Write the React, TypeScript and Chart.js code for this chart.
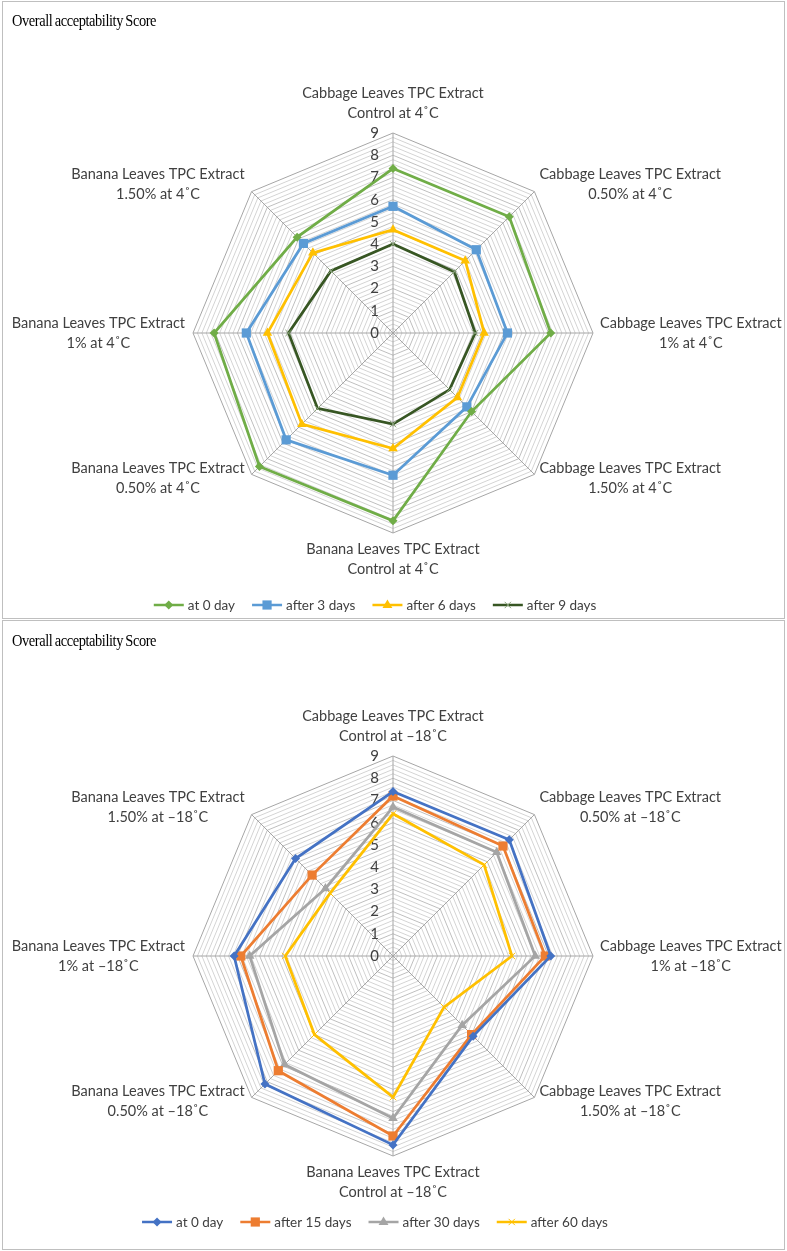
import React, { useEffect, useRef } from 'react';
import { Chart, registerables } from 'chart.js';

Chart.register(...registerables);

const FONT = 'Lato, "Liberation Sans", sans-serif';
const TITLE_TEXT = 'Overall acceptability Score';

const topCategories: string[][] = [
  ['Cabbage Leaves TPC Extract', 'Control at 4˚C'],
  ['Cabbage Leaves TPC Extract', '0.50% at 4˚C'],
  ['Cabbage Leaves TPC Extract', '1% at 4˚C'],
  ['Cabbage Leaves TPC Extract', '1.50% at 4˚C'],
  ['Banana Leaves TPC Extract', 'Control at 4˚C'],
  ['Banana Leaves TPC Extract', '0.50% at 4˚C'],
  ['Banana Leaves TPC Extract', '1% at 4˚C'],
  ['Banana Leaves TPC Extract', '1.50% at 4˚C'],
];
const bottomCategories: string[][] = [
  ['Cabbage Leaves TPC Extract', 'Control at –18˚C'],
  ['Cabbage Leaves TPC Extract', '0.50% at –18˚C'],
  ['Cabbage Leaves TPC Extract', '1% at –18˚C'],
  ['Cabbage Leaves TPC Extract', '1.50% at –18˚C'],
  ['Banana Leaves TPC Extract', 'Control at –18˚C'],
  ['Banana Leaves TPC Extract', '0.50% at –18˚C'],
  ['Banana Leaves TPC Extract', '1% at –18˚C'],
  ['Banana Leaves TPC Extract', '1.50% at –18˚C'],
];

const tickValues = [0, 1, 2, 3, 4, 5, 6, 7, 8, 9];

const topNames = ['at 0 day', 'after 3 days', 'after 6 days', 'after 9 days'];
const top0Day = [7.4, 7.4, 7.1, 5.0, 8.45, 8.5, 8.05, 6.1];
const top3Days = [5.7, 5.3, 5.15, 4.7, 6.4, 6.8, 6.6, 5.7];
const top6Days = [4.65, 4.6, 4.1, 4.1, 5.2, 5.8, 5.65, 5.1];
const top9Days = [4.0, 3.9, 3.7, 3.6, 4.1, 4.8, 4.7, 3.95];

const bottomNames = ['at 0 day', 'after 15 days', 'after 30 days', 'after 60 days'];
const bot0Day = [7.4, 7.4, 7.1, 5.1, 8.5, 8.15, 7.15, 6.2];
const bot15Days = [7.2, 7.0, 6.85, 5.0, 8.1, 7.3, 6.85, 5.15];
const bot30Days = [6.7, 6.6, 6.4, 4.4, 7.3, 6.9, 6.45, 4.3];
const bot60Days = [6.4, 5.8, 5.35, 3.25, 6.35, 5.0, 4.85, 4.0];

const topColors = ['#70AD47', '#5B9BD5', '#FFC000', '#375623'];
const bottomColors = ['#4472C4', '#ED7D31', '#A5A5A5', '#FFC000'];
const markerStyles = ['rectRot', 'rect', 'triangle', 'crossRot'];
const markerRadius = [4.5, 6.5, 5.5, 4.5];

function drawMarker(ctx: CanvasRenderingContext2D, style: string, x: number, y: number, r: number, color: string) {
  ctx.save();
  ctx.fillStyle = color;
  ctx.strokeStyle = color;
  ctx.lineWidth = 1;
  ctx.beginPath();
  if (style === 'rectRot') {
    ctx.moveTo(x, y - r);
    ctx.lineTo(x + r, y);
    ctx.lineTo(x, y + r);
    ctx.lineTo(x - r, y);
    ctx.closePath();
    ctx.fill();
  } else if (style === 'rect') {
    const s = r * Math.SQRT1_2;
    ctx.rect(x - s, y - s, 2 * s, 2 * s);
    ctx.fill();
  } else if (style === 'triangle') {
    ctx.moveTo(x, y - r);
    ctx.lineTo(x + r * 0.9, y + r * 0.55);
    ctx.lineTo(x - r * 0.9, y + r * 0.55);
    ctx.closePath();
    ctx.fill();
  } else {
    const s = r * Math.SQRT1_2;
    ctx.moveTo(x - s, y - s);
    ctx.lineTo(x + s, y + s);
    ctx.moveTo(x + s, y - s);
    ctx.lineTo(x - s, y + s);
    ctx.stroke();
  }
  ctx.restore();
}

const decorPlugin = {
  id: 'decor',
  beforeDatasetsDraw(chart: any, _args: any, opts: any) {
    const scale = chart.scales.r;
    const ctx: CanvasRenderingContext2D = chart.ctx;
    ctx.save();
    // radial tick labels
    ctx.font = `15px ${FONT}`;
    ctx.fillStyle = '#404040';
    ctx.textAlign = 'right';
    ctx.textBaseline = 'middle';
    tickValues.forEach((v) => {
      const d = scale.getDistanceFromCenterForValue(v);
      ctx.fillText(String(v), scale.xCenter - 14, scale.yCenter - d);
    });
    // point labels
    const cats: string[][] = opts.categories;
    ctx.font = `14.5px ${FONT}`;
    ctx.textAlign = 'center';
    const cfg = [
      { h: 0, dx: 0, y: [-40, -20] },
      { h: 1, dx: 5, y: [-17, 3] },
      { h: 1, dx: 7, y: [-10, 10] },
      { h: 1, dx: 5, y: [-6, 14] },
      { h: 0, dx: 0, y: [16, 36] },
      { h: -1, dx: -7, y: [-6, 14] },
      { h: -1, dx: -8, y: [-10, 10] },
      { h: -1, dx: -7, y: [-17, 3] },
    ];
    cats.forEach((lines, i) => {
      const p = scale.getPointPosition(i, scale.drawingArea);
      const c = cfg[i];
      const w = Math.max(...lines.map((l) => ctx.measureText(l).width));
      let cx = p.x;
      if (c.h === 1) cx = p.x + c.dx + w / 2;
      if (c.h === -1) cx = p.x + c.dx - w / 2;
      lines.forEach((l, k) => ctx.fillText(l, cx, p.y + c.y[k]));
    });
    ctx.restore();
  },
  afterDraw(chart: any, _args: any, opts: any) {
    const ctx: CanvasRenderingContext2D = chart.ctx;
    ctx.save();
    ctx.font = `13.5px ${FONT}`;
    ctx.textBaseline = 'middle';
    ctx.textAlign = 'left';
    const ds = chart.data.datasets;
    const lineW = 30;
    const gap = 4;
    const spacing = 17;
    const widths = ds.map((d: any) => lineW + gap + ctx.measureText(d.label).width);
    const total = widths.reduce((a: number, b: number) => a + b, 0) + spacing * (ds.length - 1);
    let x = opts.legendCenter - total / 2;
    const y = opts.legendY;
    ds.forEach((d: any, i: number) => {
      ctx.strokeStyle = d.borderColor;
      ctx.lineWidth = 2.5;
      ctx.beginPath();
      ctx.moveTo(x, y);
      ctx.lineTo(x + lineW, y);
      ctx.stroke();
      drawMarker(ctx, d.pointStyle, x + lineW / 2, y, d.pointRadius, d.pointBorderColor);
      ctx.fillStyle = '#404040';
      ctx.fillText(d.label, x + lineW + gap, y + 1);
      x += widths[i] + spacing;
    });
    ctx.restore();
  },
};

function makeDatasets(names: string[], series: number[][], colors: string[], markerColors: string[]) {
  return names.map((name, i) => ({
    label: name,
    data: series[i],
    borderColor: colors[i],
    backgroundColor: markerColors[i],
    pointBackgroundColor: markerColors[i],
    pointBorderColor: markerColors[i],
    pointBorderWidth: markerStyles[i] === 'crossRot' ? 1 : 0,
    pointStyle: markerStyles[i],
    pointRadius: markerRadius[i],
    borderWidth: 2.75,
    fill: false,
    tension: 0,
  }));
}

function RadarPanel(props: {
  width: number;
  height: number;
  categories: string[][];
  datasets: any[];
  pad: { left: number; right: number; top: number; bottom: number };
  legendY: number;
}) {
  const ref = useRef<HTMLCanvasElement>(null);
  useEffect(() => {
    if (!ref.current) return;
    const chart = new Chart(ref.current, {
      type: 'radar',
      data: {
        labels: props.categories.map((c) => c.join(' ')),
        datasets: props.datasets,
      },
      options: {
        responsive: false,
        animation: false,
        devicePixelRatio: 1,
        events: [],
        layout: { padding: props.pad },
        plugins: {
          legend: { display: false },
          title: { display: false },
          tooltip: { enabled: false },
          decor: { categories: props.categories, legendY: props.legendY, legendCenter: 375 },
        } as any,
        scales: {
          r: {
            min: 0,
            max: 9,
            ticks: { display: false, stepSize: 0.2 },
            pointLabels: { display: false },
            angleLines: { color: '#a6a6a6', lineWidth: 1 },
            grid: {
              lineWidth: 1,
              color: (c: any) => {
                const v = c.tick ? c.tick.value : 0;
                if (Math.abs(v - 9) < 1e-6) return '#a6a6a6';
                if (Math.abs(v - Math.round(v)) < 1e-6) return '#bfbfbf';
                return '#d4d4d4';
              },
            },
          },
        },
      },
      plugins: [decorPlugin as any],
    });
    return () => chart.destroy();
  }, []);
  return <canvas ref={ref} width={props.width} height={props.height} style={{ display: 'block' }} />;
}

const titleStyle: React.CSSProperties = {
  position: 'absolute',
  left: 12,
  fontFamily: '"Liberation Serif", serif',
  fontSize: 17,
  letterSpacing: '-0.5px',
  wordSpacing: '-1px',
  color: '#000',
  lineHeight: '20px',
  whiteSpace: 'nowrap',
  transform: 'scaleX(0.85)',
  transformOrigin: 'left center',
};

export default function App() {
  useEffect(() => {
    document.body.style.margin = '0';
  }, []);
  const topDs = makeDatasets(
    topNames,
    [top0Day, top3Days, top6Days, top9Days],
    topColors,
    ['#70AD47', '#5B9BD5', '#FFC000', '#8aa37c']
  );
  const botDs = makeDatasets(
    bottomNames,
    [bot0Day, bot15Days, bot30Days, bot60Days],
    bottomColors,
    bottomColors
  );
  return (
    <div style={{ position: 'relative', width: 787, height: 1251, background: '#fff', overflow: 'hidden' }}>
      <div style={{ position: 'absolute', left: 0, top: 0 }}>
        <RadarPanel
          width={787}
          height={620}
          categories={topCategories}
          datasets={topDs}
          pad={{ left: 193, right: 194, top: 133, bottom: 87 }}
          legendY={605}
        />
      </div>
      <div style={{ position: 'absolute', left: 0, top: 620 }}>
        <RadarPanel
          width={787}
          height={631}
          categories={bottomCategories}
          datasets={botDs}
          pad={{ left: 193, right: 194, top: 136, bottom: 95 }}
          legendY={602}
        />
      </div>
      <div style={{ position: 'absolute', left: 2, top: 1, width: 783, height: 618, border: '1px solid #bfbfbf', boxSizing: 'border-box' }} />
      <div style={{ position: 'absolute', left: 2, top: 620, width: 783, height: 630, border: '1px solid #bfbfbf', boxSizing: 'border-box' }} />
      <div style={{ ...titleStyle, top: 11 }}>{TITLE_TEXT}</div>
      <div style={{ ...titleStyle, top: 631 }}>{TITLE_TEXT}</div>
    </div>
  );
}
